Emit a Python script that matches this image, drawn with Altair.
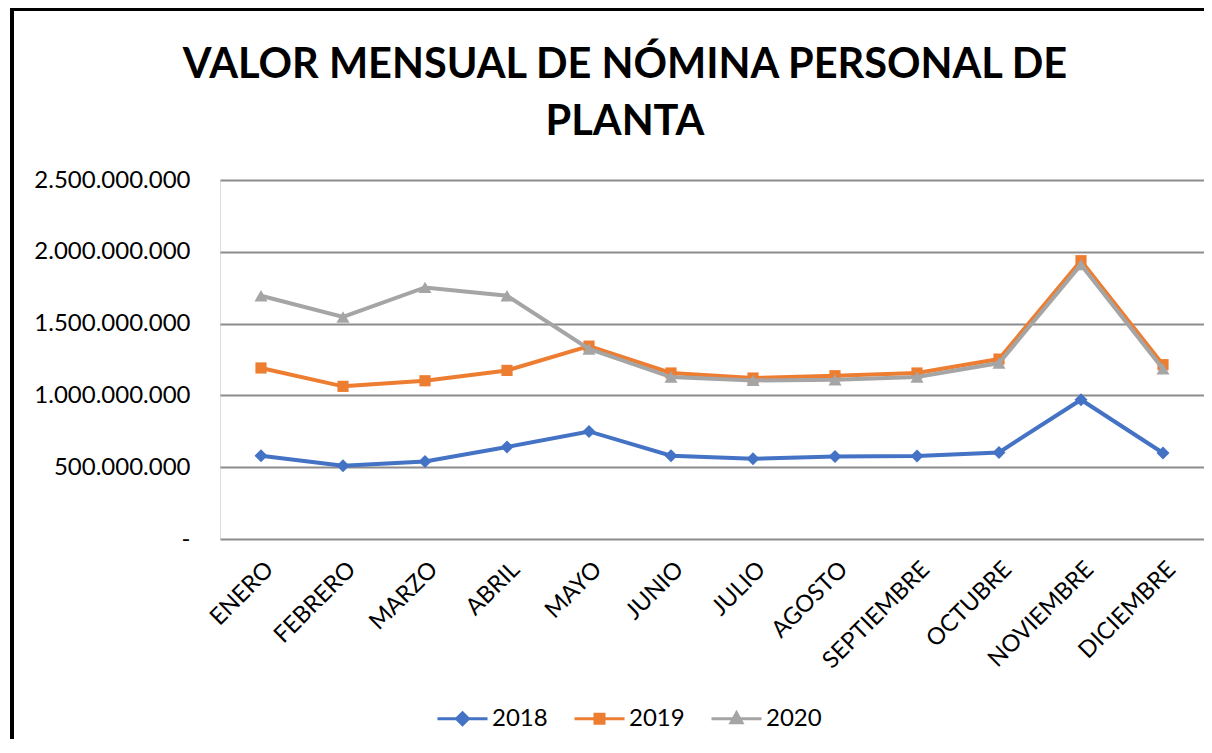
import altair as alt
import pandas as pd

months = ["ENERO", "FEBRERO", "MARZO", "ABRIL", "MAYO", "JUNIO", "JULIO",
          "AGOSTO", "SEPTIEMBRE", "OCTUBRE", "NOVIEMBRE", "DICIEMBRE"]
years = ["2018", "2019", "2020"]
v2018 = [580e6, 510e6, 540e6, 641e6, 749e6, 580e6, 559e6, 575e6, 578e6, 603e6, 970e6, 599e6]
v2019 = [1191e6, 1063e6, 1102e6, 1174e6, 1343e6, 1156e6, 1121e6, 1137e6, 1156e6, 1253e6, 1938e6, 1214e6]
v2020 = [1694e6, 1546e6, 1752e6, 1694e6, 1323e6, 1128e6, 1104e6, 1109e6, 1128e6, 1225e6, 1910e6, 1184e6]
colors = ["#4472C4", "#ED7D31", "#A5A5A5"]
shapes = ["diamond", "square", "triangle-up"]
sizes = [170, 125, 170]

rows = []
for y, vals in zip(years, [v2018, v2019, v2020]):
    for m, v in zip(months, vals):
        rows.append({"mes": m, "anio": y, "valor": v})
df = pd.DataFrame(rows)

FONT = "Lato"

x_enc = alt.X("mes:N", sort=months,
              scale=alt.Scale(type="point", padding=0.5),
              axis=alt.Axis(title=None, labelAngle=-45, labelFontSize=23.5, labelFont=FONT,
                            labelColor="#000000", ticks=False, domain=False, labelPadding=18,
                            grid=False))
y_enc = alt.Y("valor:Q",
              scale=alt.Scale(domain=[0, 2500000000], nice=False),
              axis=alt.Axis(title=None, values=[0, 500e6, 1000e6, 1500e6, 2000e6, 2500e6],
                            labelExpr="datum.value == 0 ? '-\u00a0\u00a0\u00a0\u00a0' : replace(format(datum.value, ','), regexp(',', 'g'), '.')",
                            labelFontSize=24, labelFont=FONT, labelColor="#000000",
                            ticks=False, domain=False, labelPadding=30,
                            gridColor="#8C8C8C", gridWidth=2))

base = alt.Chart(df)
layers = []
for i, y in enumerate(years):
    sub = base.transform_filter(alt.datum.anio == y)
    layers.append(sub.mark_line(color=colors[i], strokeWidth=4).encode(x=x_enc, y=y_enc))
    layers.append(sub.mark_point(shape=shapes[i], filled=True, opacity=1,
                                 color=colors[i], size=sizes[i]).encode(x=x_enc, y=y_enc))

legend_paths = [
    "M-1,0L1,0M0,-0.24L0.24,0L0,0.24L-0.24,0Z",
    "M-1,0L1,0M-0.18,-0.18L0.18,-0.18L0.18,0.18L-0.18,0.18Z",
    "M-1,0L1,0M0,-0.24L0.22,0.16L-0.22,0.16Z",
]
legend_layer = base.transform_filter("datum.valor < 0").mark_point(filled=True, opacity=1).encode(
    x=x_enc, y=y_enc,
    color=alt.Color("anio:N", scale=alt.Scale(domain=years, range=colors),
                    legend=alt.Legend(title=None, orient="none", legendX=216, legendY=512,
                                      direction="horizontal", labelFontSize=24, labelFont=FONT,
                                      labelColor="#000000", symbolSize=2500, symbolStrokeWidth=3,
                                      columnPadding=20, labelOffset=3)),
    stroke=alt.Stroke("anio:N", scale=alt.Scale(domain=years, range=colors)),
    shape=alt.Shape("anio:N", scale=alt.Scale(domain=years, range=legend_paths)),
)

frame_left = alt.Chart(df).mark_rule(color="#000000", strokeWidth=3).encode(
    x=alt.value(-208), y=alt.value(-172), y2=alt.value(600))
frame_top = alt.Chart(df).mark_rule(color="#000000", strokeWidth=3).encode(
    x=alt.value(-210), x2=alt.value(990), y=alt.value(-171))

chart = alt.layer(*layers, legend_layer, frame_left, frame_top).properties(
    width=984, height=359,
    title=alt.TitleParams(["VALOR MENSUAL DE NÓMINA PERSONAL DE", "PLANTA"],
                          font=FONT, fontSize=41.5, fontWeight="bold", color="#000000",
                          anchor="middle", dx=-87, offset=40, dy=177, lineHeight=57),
    autosize=alt.AutoSizeParams(type="none"),
    padding={"left": 212, "top": 172, "right": 0, "bottom": 200},
).configure_view(stroke=None).configure(background="#ffffff")

chart.save("out.html", embed_options={"renderer": "svg", "actions": False})
